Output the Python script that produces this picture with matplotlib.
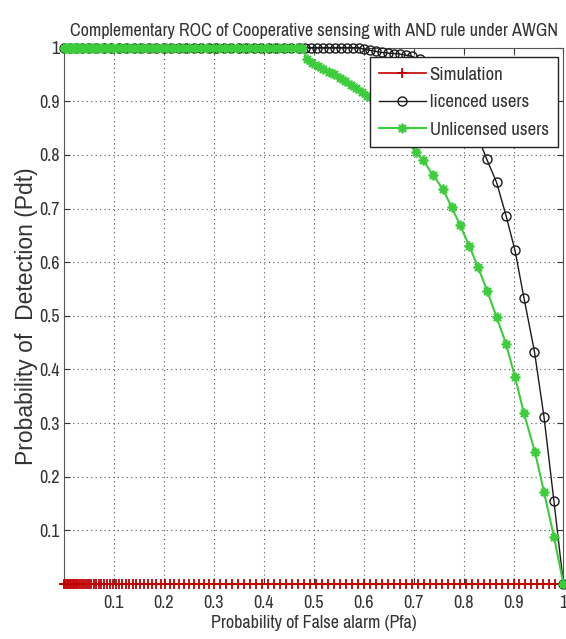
import matplotlib
matplotlib.use("Agg")
from matplotlib import pyplot as plt
from matplotlib import font_manager as fm

# pick a narrow sans face if one is there, the picture's text is condensed
have = set(f.name for f in fm.fontManager.ttflist)
narrow = [n for n in ["Liberation Sans Narrow", "Archivo Narrow", "Roboto Condensed",
                      "PT Sans Narrow", "Liberation Sans"] if n in have]
plt.rcParams["font.family"] = narrow[:1] + ["Liberation Sans", "DejaVu Sans"]

title = "Complementary ROC of Cooperative sensing with AND rule under AWGN"
x_label = "Probability of False alarm (Pfa)"
y_label = "Probability of  Detection (Pdt)"
ticks = [0.1, 0.2, 0.3, 0.4, 0.5, 0.6, 0.7, 0.8, 0.9, 1.0]
tick_labels = ["0.1", "0.2", "0.3", "0.4", "0.5", "0.6", "0.7", "0.8", "0.9", "1"]

# simulation (red): Pd stays at 0
sim_pfa = [0.0, 0.003, 0.006, 0.009, 0.012, 0.015, 0.018, 0.021, 0.024, 0.027,
           0.03, 0.034, 0.038, 0.042, 0.046, 0.05, 0.055, 0.06, 0.065, 0.07,
           0.075, 0.08, 0.086, 0.092, 0.098, 0.104, 0.11, 0.117, 0.124, 0.131,
           0.138, 0.145, 0.153, 0.161, 0.169, 0.177, 0.185, 0.194, 0.203, 0.212,
           0.221, 0.23, 0.24, 0.25, 0.26, 0.27, 0.28, 0.29, 0.3, 0.312, 0.324,
           0.336, 0.348, 0.36, 0.372, 0.384, 0.396, 0.408, 0.42, 0.432, 0.444,
           0.456, 0.468, 0.48, 0.492, 0.504, 0.516, 0.528, 0.54, 0.552, 0.564,
           0.576, 0.588, 0.6, 0.612, 0.624, 0.636, 0.648, 0.66, 0.672, 0.684,
           0.696, 0.708, 0.72, 0.732, 0.744, 0.756, 0.768, 0.78, 0.792, 0.804,
           0.816, 0.828, 0.84, 0.852, 0.864, 0.876, 0.888, 0.9, 0.912, 0.924,
           0.936, 0.948, 0.96, 0.972, 0.984, 1.0]
sim_pd = [0.0] * len(sim_pfa)

# licenced users (black circles)
lic_pfa = [0.0, 0.012, 0.024, 0.036, 0.05, 0.065, 0.08, 0.095, 0.11, 0.125,
           0.14, 0.155, 0.17, 0.185, 0.2, 0.215, 0.23, 0.245, 0.26, 0.275,
           0.29, 0.305, 0.32, 0.335, 0.35, 0.365, 0.38, 0.395, 0.41, 0.425,
           0.44, 0.455, 0.47, 0.482, 0.494, 0.506, 0.518, 0.53, 0.542, 0.554,
           0.566, 0.578, 0.59, 0.6, 0.612, 0.624, 0.636, 0.648, 0.66, 0.672,
           0.684, 0.696, 0.712, 0.731, 0.75, 0.769, 0.788, 0.807, 0.826, 0.846,
           0.866, 0.885, 0.903, 0.921, 0.942, 0.961, 0.981, 1.0]
lic_pd = [1.0, 1.0, 1.0, 1.0, 1.0, 1.0, 1.0, 1.0, 1.0, 1.0,
          1.0, 1.0, 1.0, 1.0, 1.0, 1.0, 1.0, 1.0, 1.0, 1.0,
          1.0, 1.0, 1.0, 1.0, 1.0, 1.0, 1.0, 1.0, 1.0, 1.0,
          1.0, 1.0, 1.0, 1.0, 1.0, 1.0, 1.0, 1.0, 1.0, 1.0,
          1.0, 1.0, 1.0, 0.997, 0.995, 0.993, 0.991, 0.99, 0.989, 0.988,
          0.986, 0.984, 0.978, 0.968, 0.955, 0.937, 0.912, 0.88, 0.84, 0.793,
          0.749, 0.687, 0.622, 0.533, 0.433, 0.312, 0.154, 0.0]

# unlicensed users (green asterisks)
unlic_pfa = [0.0, 0.004, 0.008, 0.012, 0.016, 0.02, 0.025, 0.03, 0.035, 0.04,
             0.046, 0.052, 0.058, 0.064, 0.07, 0.077, 0.084, 0.091, 0.098, 0.106,
             0.114, 0.122, 0.13, 0.139, 0.148, 0.157, 0.166, 0.176, 0.186, 0.196,
             0.206, 0.217, 0.228, 0.239, 0.25, 0.262, 0.274, 0.286, 0.298, 0.31,
             0.322, 0.334, 0.346, 0.358, 0.37, 0.382, 0.394, 0.406, 0.418, 0.43,
             0.442, 0.454, 0.466, 0.476, 0.486, 0.497, 0.508, 0.519, 0.53, 0.541,
             0.552, 0.563, 0.574, 0.585, 0.596, 0.607, 0.618, 0.635, 0.653, 0.67,
             0.688, 0.704, 0.719, 0.739, 0.758, 0.776, 0.793, 0.811, 0.829, 0.847,
             0.866, 0.885, 0.903, 0.921, 0.943, 0.961, 0.981, 1.0]
unlic_pd = [1.0, 1.0, 1.0, 1.0, 1.0, 1.0, 1.0, 1.0, 1.0, 1.0,
            1.0, 1.0, 1.0, 1.0, 1.0, 1.0, 1.0, 1.0, 1.0, 1.0,
            1.0, 1.0, 1.0, 1.0, 1.0, 1.0, 1.0, 1.0, 1.0, 1.0,
            1.0, 1.0, 1.0, 1.0, 1.0, 1.0, 1.0, 1.0, 1.0, 1.0,
            1.0, 1.0, 1.0, 1.0, 1.0, 1.0, 1.0, 1.0, 1.0, 1.0,
            1.0, 1.0, 1.0, 1.0, 0.979, 0.972, 0.966, 0.96, 0.955, 0.95,
            0.943, 0.937, 0.931, 0.924, 0.917, 0.91, 0.902, 0.886, 0.867, 0.847,
            0.826, 0.805, 0.79, 0.762, 0.737, 0.703, 0.669, 0.631, 0.591, 0.547,
            0.498, 0.448, 0.386, 0.318, 0.246, 0.172, 0.088, 0.0]

fig = plt.figure(figsize=(5.66, 6.39), dpi=100)
ax = fig.add_axes([0.113, 0.086, 0.8825, 0.8395])

ax.plot(sim_pfa, sim_pd, color="#c00000", marker="+", markersize=7, mew=1.3,
        lw=1.2, label="Simulation", clip_on=False, zorder=3)
ax.plot(lic_pfa, lic_pd, color="#1a1a1a", marker="o", markersize=6.5,
        markerfacecolor="none", mew=1.0, lw=1.0, label="licenced users",
        clip_on=False, zorder=4)
ax.plot(unlic_pfa, unlic_pd, color="#3ccc3c", marker=(8, 2, 0), markersize=7,
        mew=1.3, lw=1.5, label="Unlicensed users", clip_on=False, zorder=5)

ax.set_xlim(0, 1)
ax.set_ylim(0, 1)
ax.set_xticks(ticks)
ax.set_xticklabels(tick_labels)
ax.set_yticks(ticks)
ax.set_yticklabels(tick_labels)
ax.tick_params(direction="in", top=True, right=True, length=4,
               labelsize=13, colors="#333333")
ax.tick_params(axis="x", pad=8)
ax.tick_params(axis="y", pad=3)
ax.grid(True, linestyle=(0, (1, 3)), color="#555555", lw=0.8)
for sp in ax.spines.values():
    sp.set_color("#555555")

ax.set_title(title, fontsize=13, color="#333333", pad=8)
ax.set_xlabel(x_label, fontsize=13, color="#333333", labelpad=3)
ax.set_ylabel(y_label, fontsize=16.5, color="#333333", labelpad=1,
              family=["Liberation Sans", "DejaVu Sans"])

leg = ax.legend(loc="upper right", bbox_to_anchor=(0.989, 0.982),
                borderaxespad=0, fontsize=13.5, numpoints=1, handlelength=2.5,
                handletextpad=0.2, labelspacing=0.6, borderpad=0.5,
                fancybox=False, framealpha=1, edgecolor="#222222")
leg.get_frame().set_linewidth(1.0)
for t in leg.get_texts():
    t.set_color("#333333")

fig.savefig("out.png", dpi=100)
